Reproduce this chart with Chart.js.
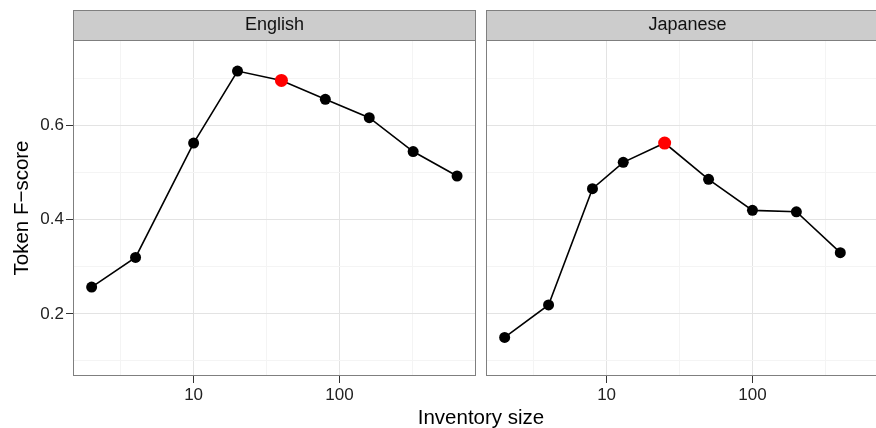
<!DOCTYPE html>
<html>
<head>
<meta charset="utf-8">
<script src="https://cdn.jsdelivr.net/npm/chart.js@4.4.0/dist/chart.umd.min.js"></script>
<style>
  html, body { margin: 0; padding: 0; background: #fff; overflow: hidden; }
  #wrap { position: relative; width: 876px; height: 428px; overflow: hidden; }
  #englishChart { position: absolute; left: 0; top: 0; }
  #japaneseChart { position: absolute; left: 480px; top: 0; }
  #xTitle {
    position: absolute; left: 331px; width: 300px; top: 405px;
    text-align: center; line-height: 22px; color: #000;
    font: 20.5px "Liberation Sans", Arial, sans-serif;
  }
</style>
</head>
<body>
<div id="wrap">
  <canvas id="englishChart" width="480" height="428"></canvas>
  <canvas id="japaneseChart" width="410" height="428"></canvas>
  <div id="xTitle">Inventory size</div>
</div>
<script>
const englishSizes = [2, 4, 10, 20, 40, 80, 160, 320, 640];
const englishScores = [0.257, 0.320, 0.563, 0.716, 0.696, 0.656, 0.617, 0.545, 0.493];
const englishBest = 40;

const japaneseSizes = [2, 4, 8, 13, 25, 50, 100, 200, 400];
const japaneseScores = [0.150, 0.219, 0.466, 0.522, 0.563, 0.486, 0.420, 0.417, 0.330];
const japaneseBest = 25;

const xMajorTicks = [10, 100];
const xMinorTicks = [3.162, 31.62, 316.2];
const yMajorTicks = [0.2, 0.4, 0.6];
const yMinorTicks = [0.1, 0.3, 0.5, 0.7];

const xRange = [1.49, 863];
const yRange = [0.068, 0.782];

const FONT = '"Liberation Sans", Arial, sans-serif';

// grey facet strip above the panel + panel border
const stripPlugin = {
  id: 'strip',
  afterDraw(chart, args, opts) {
    const { ctx, chartArea: a } = chart;
    const w = a.right - a.left;
    ctx.save();
    ctx.fillStyle = '#cccccc';
    ctx.fillRect(a.left, 10, w, a.top - 10);
    ctx.strokeStyle = '#7f7f7f';
    ctx.lineWidth = 1;
    ctx.strokeRect(a.left + 0.5, 10.5, w - 1, a.top - 10);
    ctx.strokeRect(a.left + 0.5, a.top + 0.5, w - 1, a.bottom - a.top - 1);
    ctx.fillStyle = '#111';
    ctx.font = '18px ' + FONT;
    ctx.textAlign = 'center';
    ctx.textBaseline = 'middle';
    ctx.fillText(opts.label, a.left + w / 2, 25.5);
    ctx.restore();
  }
};

function gridColor(majors) {
  return (c) => (c.tick && majors.includes(c.tick.value)) ? '#e3e3e3' : '#f4f4f4';
}
function tickMarkColor(majors) {
  return (c) => (c.tick && majors.includes(c.tick.value)) ? '#333333' : 'rgba(0,0,0,0)';
}

function makePanel(canvasId, label, sizes, scores, best, showY) {
  const points = sizes.map((s, i) => ({ x: s, y: scores[i] }));

  const yAxis = {
    type: 'linear',
    min: yRange[0],
    max: yRange[1],
    afterBuildTicks: (axis) => {
      axis.ticks = [...yMinorTicks, ...yMajorTicks].sort((a, b) => a - b).map(v => ({ value: v }));
    },
    afterFit: (axis) => { axis.width = showY ? 73 : 6; },
    border: { display: false },
    grid: {
      color: gridColor(yMajorTicks),
      tickColor: tickMarkColor(yMajorTicks),
      drawTicks: showY,
      tickLength: 7,
      lineWidth: 1
    },
    ticks: {
      display: showY,
      autoSkip: false,
      padding: 2,
      color: '#222',
      font: { family: FONT, size: 17 },
      callback: (v) => yMajorTicks.includes(v) ? v.toFixed(1) : ''
    },
    title: {
      display: showY,
      text: 'Token F−score',
      color: '#000',
      font: { family: FONT, size: 20.5 },
      padding: { top: 10, bottom: 0 }
    }
  };

  return new Chart(document.getElementById(canvasId), {
    type: 'line',
    data: {
      datasets: [{
        data: points,
        borderColor: '#000',
        borderWidth: 1.6,
        pointRadius: (c) => (c.raw && c.raw.x === best) ? 6.5 : 5.5,
        pointBackgroundColor: (c) => (c.raw && c.raw.x === best) ? '#ff0000' : '#000',
        pointBorderWidth: 0,
        tension: 0
      }]
    },
    options: {
      responsive: false,
      animation: false,
      events: [],
      layout: {
        autoPadding: false,
        padding: { top: 40, right: showY ? 4 : 1, left: 0, bottom: 0 }
      },
      plugins: {
        legend: { display: false },
        tooltip: { enabled: false },
        strip: { label: label }
      },
      scales: {
        x: {
          type: 'logarithmic',
          min: xRange[0],
          max: xRange[1],
          afterBuildTicks: (axis) => {
            axis.ticks = [...xMinorTicks, ...xMajorTicks].sort((a, b) => a - b).map(v => ({ value: v }));
          },
          afterFit: (axis) => { axis.height = 52; },
          border: { display: false },
          grid: {
            color: gridColor(xMajorTicks),
            tickColor: tickMarkColor(xMajorTicks),
            tickLength: 7,
            lineWidth: 1
          },
          ticks: {
            autoSkip: false,
            maxRotation: 0,
            padding: 2,
            color: '#222',
            font: { family: FONT, size: 17 },
            callback: (v) => xMajorTicks.includes(v) ? String(v) : ''
          }
        },
        y: yAxis
      }
    },
    plugins: [stripPlugin]
  });
}

makePanel('englishChart', 'English', englishSizes, englishScores, englishBest, true);
makePanel('japaneseChart', 'Japanese', japaneseSizes, japaneseScores, japaneseBest, false);
</script>
</body>
</html>
